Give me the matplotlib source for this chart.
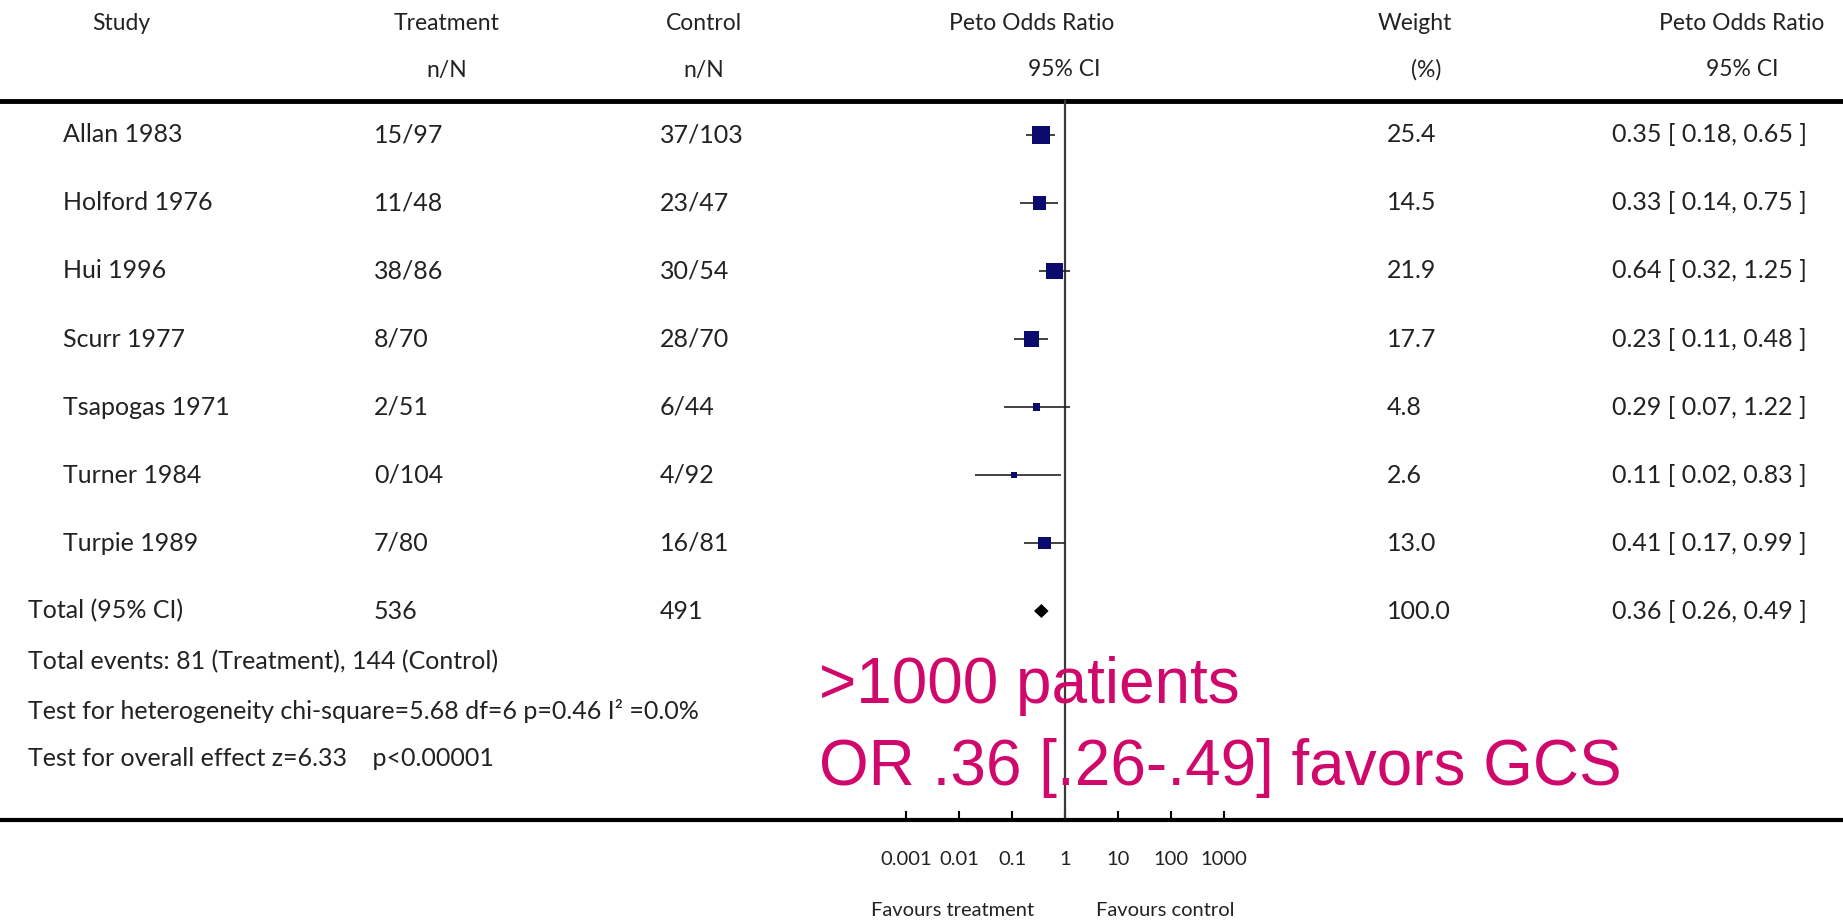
import matplotlib.pyplot as plt
import numpy as np
from matplotlib.transforms import blended_transform_factory

# study rows
studies = ["Allan 1983", "Holford 1976", "Hui 1996", "Scurr 1977",
           "Tsapogas 1971", "Turner 1984", "Turpie 1989"]
treatment = ["15/97", "11/48", "38/86", "8/70", "2/51", "0/104", "7/80"]
control = ["37/103", "23/47", "30/54", "28/70", "6/44", "4/92", "16/81"]
odds_ratio = [0.35, 0.33, 0.64, 0.23, 0.29, 0.11, 0.41]
ci_low = [0.18, 0.14, 0.32, 0.11, 0.07, 0.02, 0.17]
ci_high = [0.65, 0.75, 1.25, 0.48, 1.22, 0.83, 0.99]
weight = [25.4, 14.5, 21.9, 17.7, 4.8, 2.6, 13.0]

# pooled estimate
total_label = "Total (95% CI)"
total_treatment = 536
total_control = 491
total_or = 0.36
total_low = 0.26
total_high = 0.49
total_weight = 100.0

footnotes = [
    "Total events: 81 (Treatment), 144 (Control)",
    "Test for heterogeneity chi-square=5.68 df=6 p=0.46 I\u00b2 =0.0%",
    "Test for overall effect z=6.33    p<0.00001",
]
annotation = [">1000 patients", "OR .36 [.26-.49] favors GCS"]

tick_values = [0.001, 0.01, 0.1, 1, 10, 100, 1000]
tick_labels = ["0.001", "0.01", "0.1", "1", "10", "100", "1000"]

W, H = 1843, 921
FONT = "Lato"
TXT = "#222222"
SQUARE = "#0b0b6e"
PINK = "#d1086c"

plt.rcParams["font.family"] = [FONT, "DejaVu Sans"]

fig = plt.figure(figsize=(W / 100, H / 100), dpi=100)
# axes spans full width, from the top down to the bottom rule at y=820px
ax = fig.add_axes([0, (H - 820) / H, 1, 820 / H])

# x: OR=1 sits at 1065px, one decade = 53px
px0, dec = 1065, 53
ax.set_xscale("log")
ax.set_xlim(10 ** (-px0 / dec), 10 ** ((W - px0) / dec))
# y: rows 68px apart, first row at 135px
row0, step = 135, 68
ax.set_ylim((820 - row0) / step, -row0 / step)

for s in ["left", "right", "top"]:
    ax.spines[s].set_visible(False)
ax.spines["bottom"].set_linewidth(3)
ax.set_yticks([])
ax.set_xticks(tick_values)
ax.set_xticklabels(tick_labels)
ax.minorticks_off()
ax.tick_params(axis="x", direction="in", length=6.5, width=1.5,
               pad=22, labelsize=14.5, labelcolor=TXT)

# header rule and line of no effect
ax.axhline(-0.5, color="black", lw=3.5)
ax.plot([1, 1], [-0.5, ax.get_ylim()[0]], color="#3a3a3a", lw=1.6)

rows = np.arange(len(studies))
ax.hlines(rows, ci_low, ci_high, color="#222222", lw=1.2, zorder=2)
ax.scatter(odds_ratio, rows, marker="s", s=np.array(weight) * 6.6,
           color=SQUARE, linewidths=0, zorder=3)

ty = len(studies)
dh = 7 / step
ax.fill([total_low, total_or, total_high, total_or],
        [ty, ty - dh, ty, ty + dh], color="black", lw=0, zorder=3)

tr = blended_transform_factory(ax.transAxes, ax.transData)


def put(xpx, y, s, ha="left", size=18, color=TXT, **kw):
    ax.text(xpx / W, y, s, transform=tr, ha=ha, va="center",
            fontsize=size, color=color, **kw)


# headers
h1, h2 = (23 - row0) / step, (70 - row0) / step
hs = 16.5
put(121, h1, "Study", ha="center", size=hs)
put(447, h1, "Treatment", ha="center", size=hs)
put(447, h2, "n/N", ha="center", size=hs)
put(704, h1, "Control", ha="center", size=hs)
put(704, h2, "n/N", ha="center", size=hs)
put(1032, h1, "Peto Odds Ratio", ha="center", size=hs)
put(1064, h2, "95% CI", ha="center", size=hs)
put(1415, h1, "Weight", ha="center", size=hs)
put(1426, h2, "(%)", ha="center", size=hs)
put(1742, h1, "Peto Odds Ratio", ha="center", size=hs)
put(1742, h2, "95% CI", ha="center", size=hs)

for i in rows:
    put(63, i, studies[i])
    put(374, i, treatment[i])
    put(660, i, control[i])
    put(1387, i, f"{weight[i]:.1f}")
    put(1612, i, f"{odds_ratio[i]:.2f} [ {ci_low[i]:.2f}, {ci_high[i]:.2f} ]")

put(28, ty, total_label)
put(374, ty, str(total_treatment))
put(660, ty, str(total_control))
put(1387, ty, f"{total_weight:.1f}")
put(1612, ty, f"{total_or:.2f} [ {total_low:.2f}, {total_high:.2f} ]")

for k, line in enumerate(footnotes):
    put(28, ((662, 711, 758)[k] - row0) / step, line)

for k, line in enumerate(annotation):
    ax.text(819 / W, ((703, 785)[k] - row0) / step, line, transform=tr,
            ha="left", va="baseline", fontsize=46, color=PINK,
            family=["Liberation Sans", "DejaVu Sans"])

fig.text(953 / W, 1 - 910 / H, "Favours treatment", ha="center", va="center",
         fontsize=14.5, color=TXT)
fig.text(1165 / W, 1 - 910 / H, "Favours control", ha="center", va="center",
         fontsize=14.5, color=TXT)

fig.savefig("out.png", dpi=100, facecolor="white")
